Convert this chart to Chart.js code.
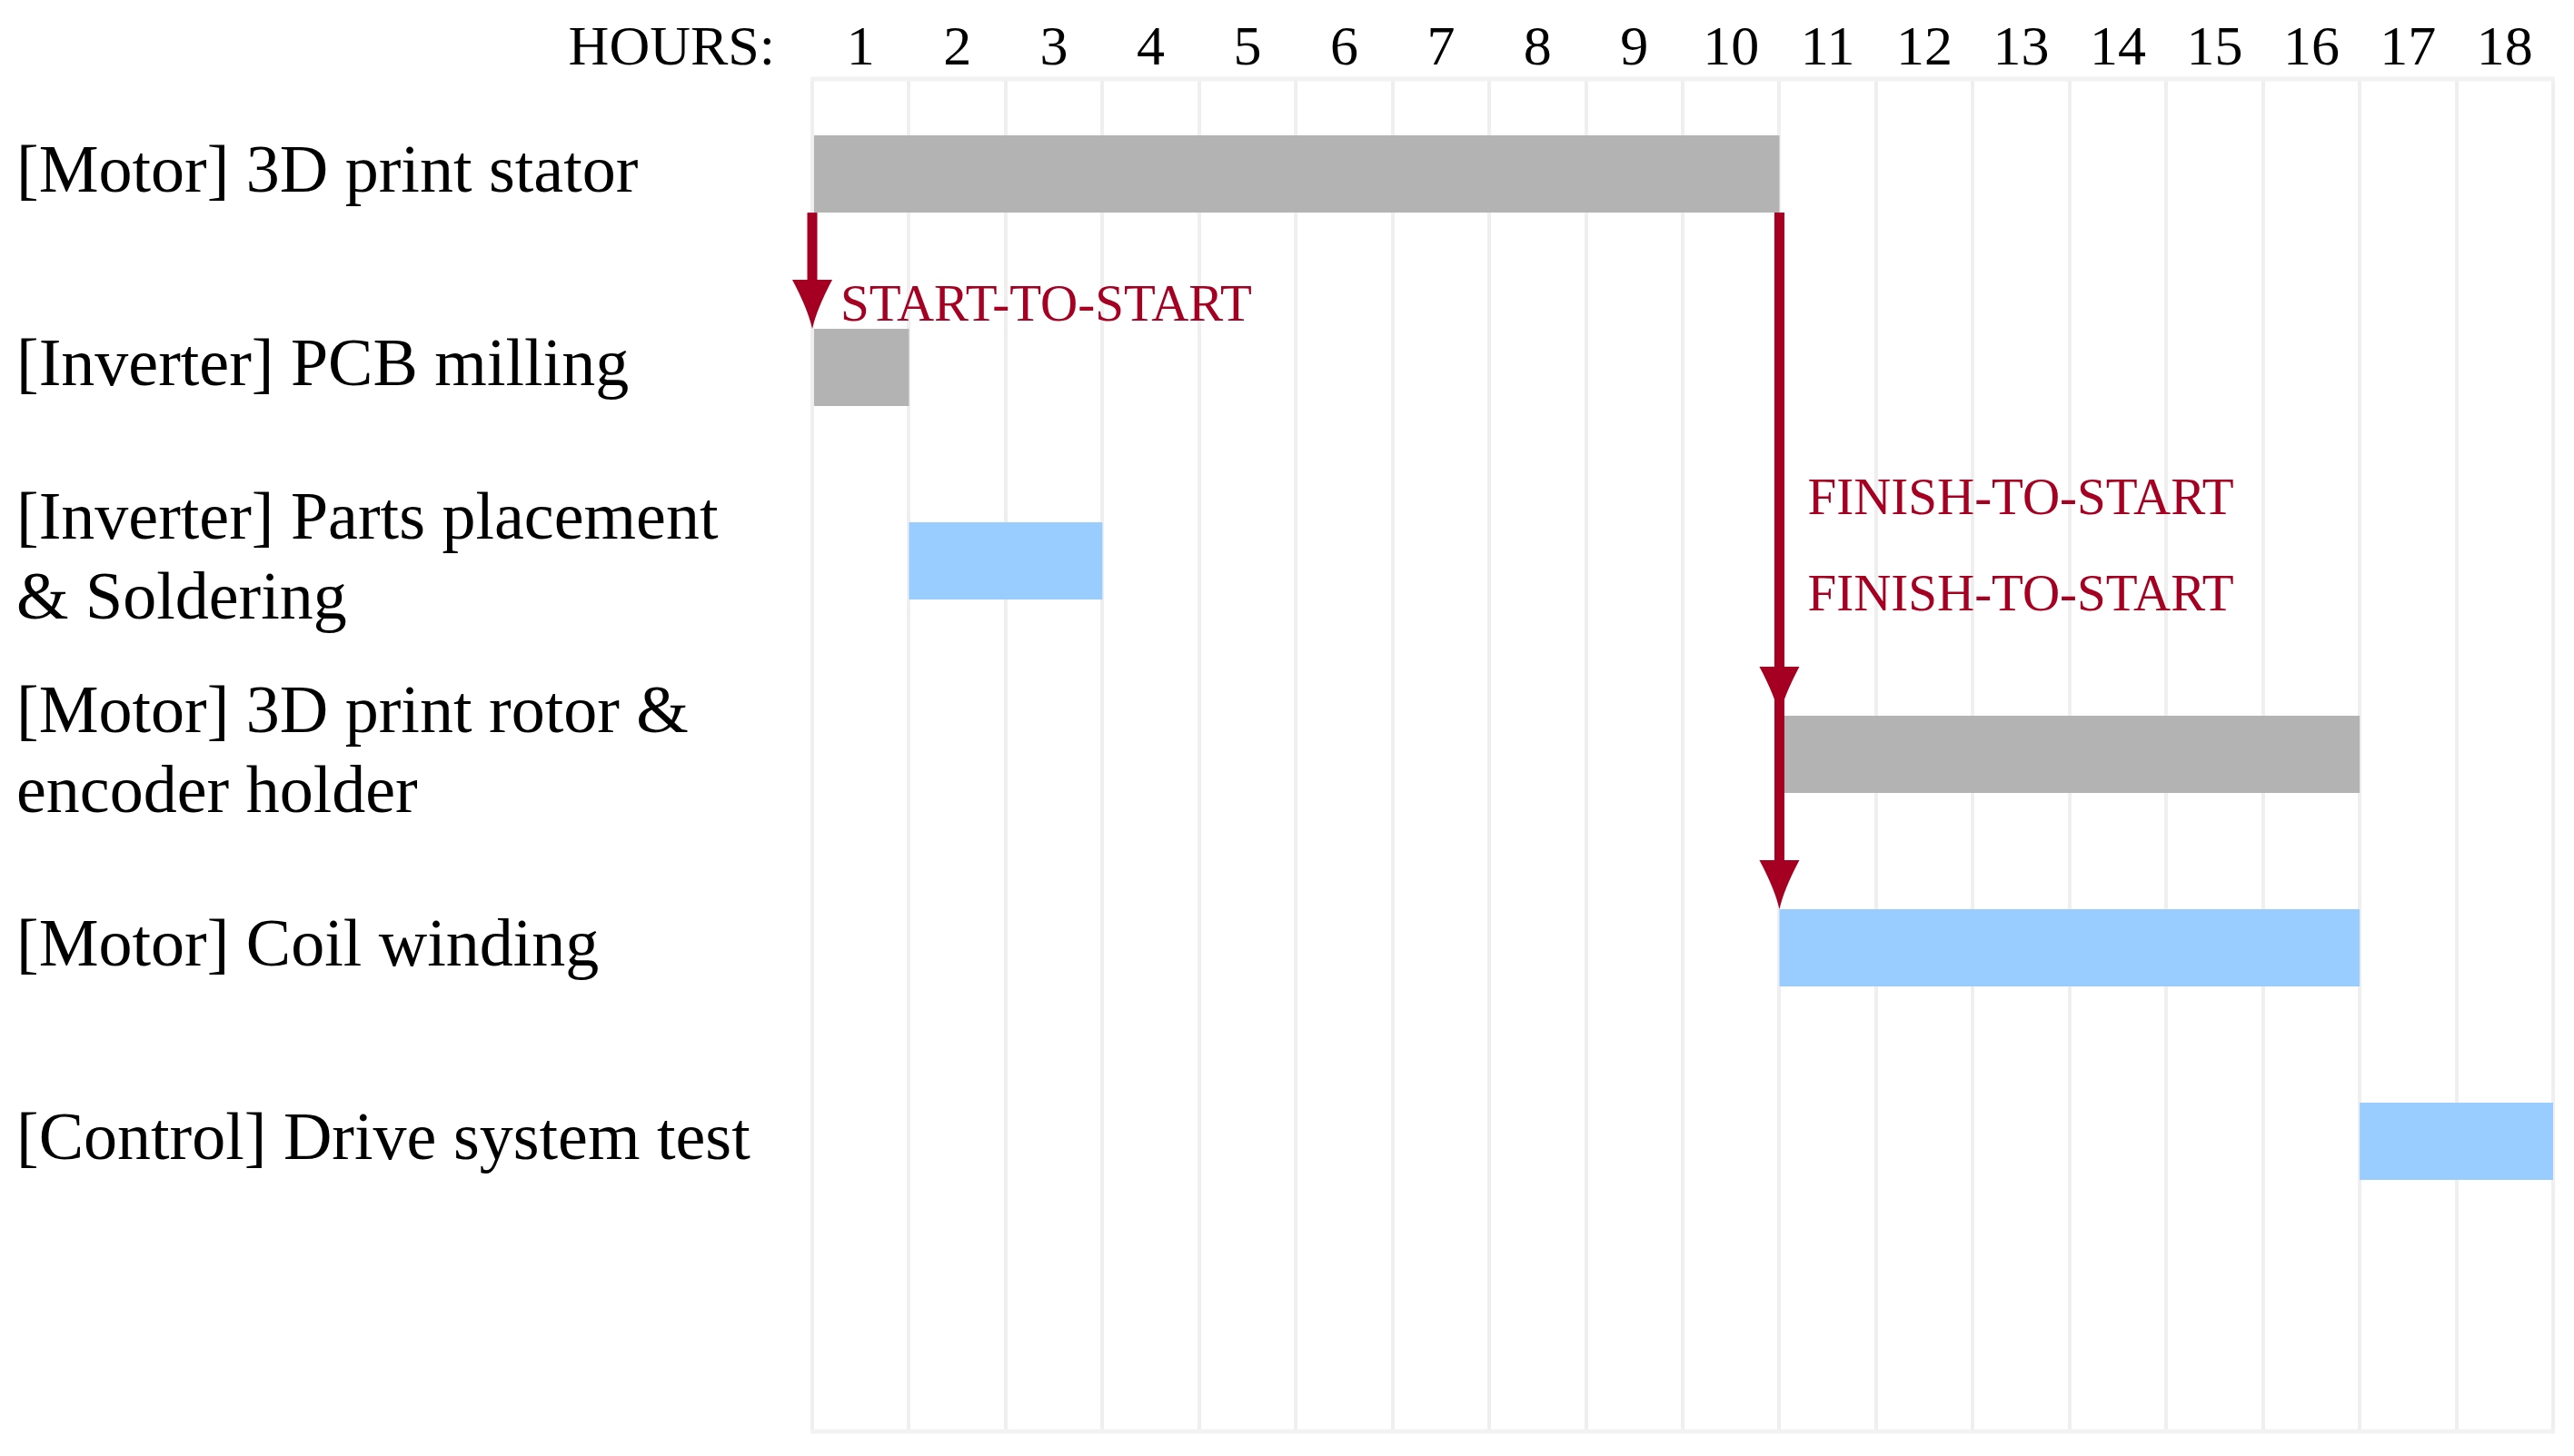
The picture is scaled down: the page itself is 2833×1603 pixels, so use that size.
<!DOCTYPE html>
<html lang="en">
<head>
    <meta charset="UTF-8">
    <title>Drive system build schedule</title>
    <script src="https://cdn.jsdelivr.net/npm/chart.js@4"></script>
    <style>
        body { margin: 0; background: #fff; }
        .chart-box { width: 2833px; height: 1603px; }
    </style>
</head>
<body>
    <div class="chart-box"><canvas id="ganttChart"></canvas></div>

    <script>
        // Tasks top to bottom (last row left empty like the original)
        const tasks = [
            '[Motor] 3D print stator',
            '[Inverter] PCB milling',
            ['[Inverter] Parts placement', '& Soldering'],
            ['[Motor] 3D print rotor &', 'encoder holder'],
            '[Motor] Coil winding',
            '[Control] Drive system test',
            ''
        ];
        const taskStart = [0, 0, 1, 10, 10, 16];
        const taskEnd = [10, 1, 3, 16, 16, 18];
        const hourLabels = ['1', '2', '3', '4', '5', '6', '7', '8', '9',
                            '10', '11', '12', '13', '14', '15', '16', '17', '18'];

        // Dependencies between tasks
        const linkFrom = [0, 0, 0];
        const linkTo = [1, 3, 4];
        const linkKind = ['START-TO-START', 'FINISH-TO-START', 'FINISH-TO-START'];

        const GREY = '#b3b3b3', BLUE = '#99ccff', RED = '#a50021';
        const barColors = [GREY, GREY, BLUE, GREY, BLUE, BLUE];
        const FONT = '"Liberation Serif", "Times New Roman", serif';
        const TICK_SIZE = 62;
        const TICK_PAD = -7;

        const ganttExtras = {
            id: 'ganttExtras',
            beforeDatasetsDraw(chart) {
                const { ctx, chartArea: a } = chart;
                ctx.save();
                ctx.strokeStyle = '#f2f2f2';
                ctx.lineWidth = 5;
                ctx.beginPath();
                ctx.moveTo(a.left - 2, a.top + 2);
                ctx.lineTo(a.right + 2, a.top + 2);
                ctx.moveTo(a.left - 2, a.bottom);
                ctx.lineTo(a.right + 2, a.bottom);
                ctx.stroke();
                ctx.restore();
            },
            afterDatasetsDraw(chart) {
                const { ctx } = chart;
                const xs = chart.scales.x;
                const bars = chart.getDatasetMeta(0).data;
                ctx.save();
                linkFrom.forEach((from, i) => {
                    const src = bars[from], dst = bars[linkTo[i]];
                    const startLink = linkKind[i].startsWith('START');
                    const px = xs.getPixelForValue(startLink ? taskStart[from] : taskEnd[from]);
                    const y0 = src.y + src.height / 2;
                    const y1 = dst.y - dst.height / 2;
                    const headH = 54, headW = 22;

                    // shaft
                    ctx.strokeStyle = RED;
                    ctx.lineWidth = 11;
                    ctx.beginPath();
                    ctx.moveTo(px, y0);
                    ctx.lineTo(px, y1 - headH + 4);
                    ctx.stroke();

                    // head, slightly concave sides
                    ctx.fillStyle = RED;
                    ctx.beginPath();
                    ctx.moveTo(px - headW, y1 - headH);
                    ctx.lineTo(px + headW, y1 - headH);
                    ctx.quadraticCurveTo(px + 5, y1 - 22, px, y1);
                    ctx.quadraticCurveTo(px - 5, y1 - 22, px - headW, y1 - headH);
                    ctx.fill();

                    // label
                    ctx.font = '57px ' + FONT;
                    ctx.textAlign = 'left';
                    ctx.textBaseline = 'middle';
                    ctx.fillText(linkKind[i], px + 31, (y0 + y1) / 2 + 40);
                });

                // "HOURS:" in front of the hour ticks
                const top = chart.scales.x2;
                ctx.fillStyle = '#000';
                ctx.font = TICK_SIZE + 'px ' + FONT;
                ctx.textAlign = 'right';
                ctx.textBaseline = 'middle';
                ctx.fillText('HOURS:', chart.chartArea.left - 41, top.bottom - TICK_SIZE * 0.6 - TICK_PAD);
                ctx.restore();
            }
        };

        const ctx = document.getElementById('ganttChart').getContext('2d');
        const ganttChart = new Chart(ctx, {
            type: 'bar',
            data: {
                labels: tasks,
                datasets: [{
                    data: taskStart.map((s, i) => [s, taskEnd[i]]),
                    backgroundColor: barColors,
                    borderWidth: 0,
                    borderSkipped: false,
                    barPercentage: 0.4,
                    categoryPercentage: 1
                }]
            },
            options: {
                indexAxis: 'y',
                responsive: true,
                maintainAspectRatio: false,
                animation: false,
                layout: { padding: { left: 18, right: 23, top: 0, bottom: 27 } },
                plugins: {
                    legend: { display: false },
                    tooltip: { enabled: false }
                },
                scales: {
                    x: {
                        type: 'linear',
                        position: 'top',
                        min: 0,
                        max: 18,
                        ticks: { display: false, stepSize: 1 },
                        grid: { color: '#efefef', lineWidth: 4, drawTicks: false },
                        border: { display: false },
                        afterFit: (scale) => { scale.height = 0; }
                    },
                    x2: {
                        type: 'category',
                        position: 'top',
                        labels: hourLabels,
                        offset: true,
                        grid: { display: false, drawTicks: false },
                        border: { display: false },
                        ticks: {
                            color: '#000',
                            padding: TICK_PAD,
                            maxRotation: 0,
                            autoSkip: false,
                            font: { family: FONT, size: TICK_SIZE }
                        },
                        afterFit: (scale) => { scale.height = 85; }
                    },
                    y: {
                        grid: { display: false, drawTicks: false },
                        border: { display: false },
                        ticks: {
                            color: '#000',
                            crossAlign: 'far',
                            autoSkip: false,
                            font: { family: FONT, size: 74, lineHeight: 1.18 }
                        },
                        afterFit: (scale) => {
                            scale.width = 876;
                            scale.paddingTop = 0;
                            scale.paddingBottom = 0;
                        }
                    }
                }
            },
            plugins: [ganttExtras]
        });
    </script>
</body>
</html>
